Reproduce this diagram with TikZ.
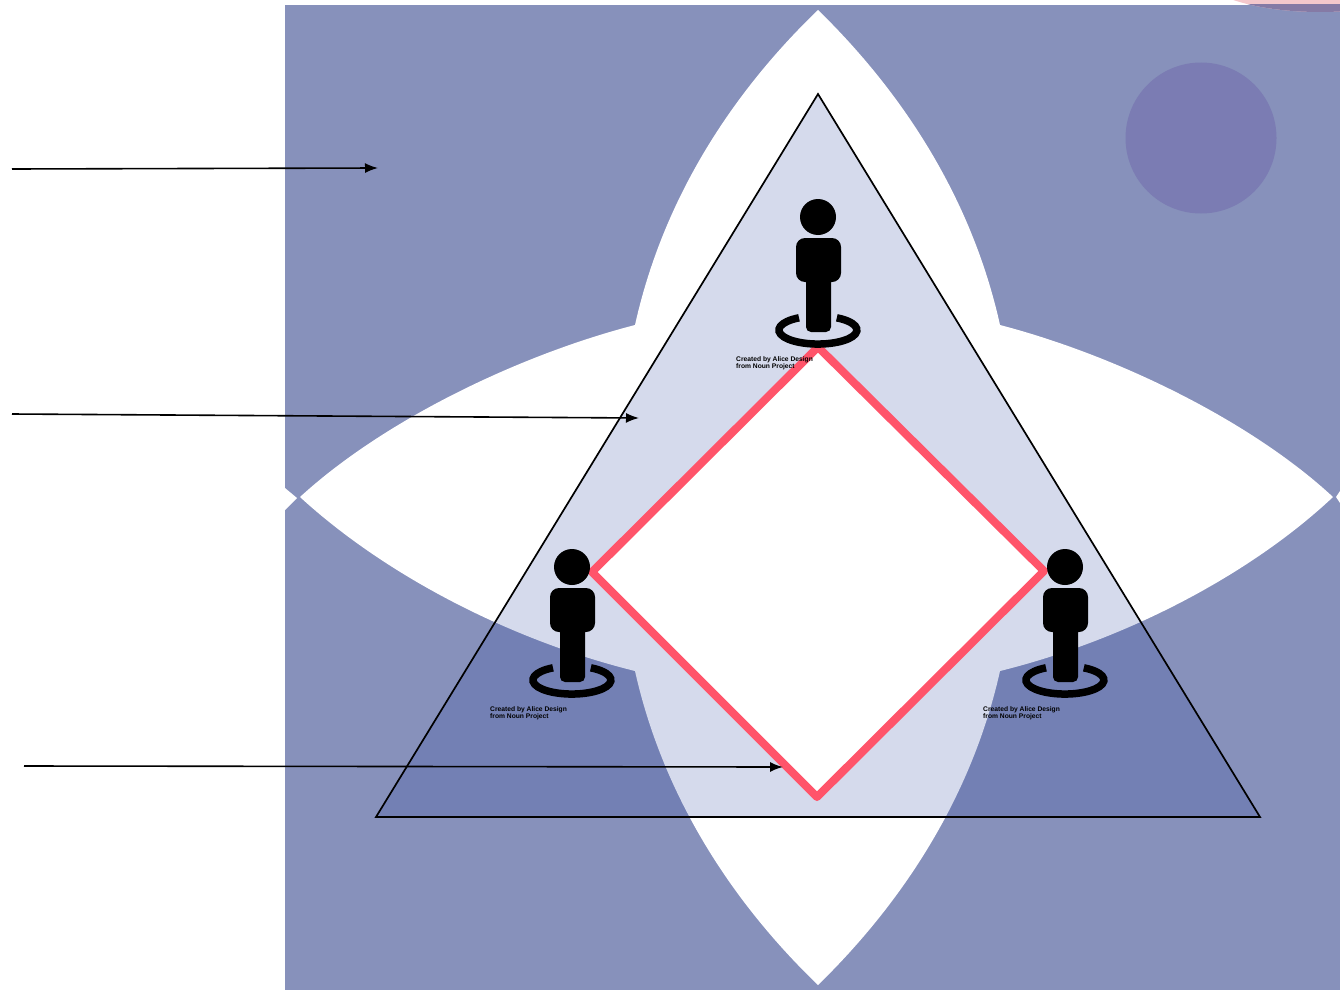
\documentclass[tikz,border=0pt]{standalone}
\usepackage{fontspec}
\setsansfont{Liberation Sans}
\usetikzlibrary{arrows.meta}
\definecolor{field}{RGB}{135,145,187}
\definecolor{disc}{RGB}{123,124,179}
\definecolor{blush}{RGB}{244,200,204}
\definecolor{blushdark}{RGB}{133,122,165}
\definecolor{tint}{RGB}{27,55,150}
\definecolor{rim}{RGB}{255,84,106}
\tikzset{
  pointer/.style={line width=1.6pt,-{Latex[length=13pt,width=10pt]}},
  credit/.style={anchor=north west,align=left,inner sep=0pt,font=\sffamily\bfseries\fontsize{6.7}{7}\selectfont},
  person/.pic={
    \fill (0,0) circle (18);
    \fill[rounded corners=9pt] (-22,21) rectangle (23,65);
    \fill[rounded corners=5pt] (-12,50) rectangle (13,115);
    % ring, open at the top
    \draw[line width=7.5pt] (-19,100.8) arc[start angle=119,end angle=421,x radius=39pt,y radius=14pt];
  }
}
\begin{document}
\begin{tikzpicture}[x=1pt,y=-1pt]
  \useasboundingbox (0,0) rectangle (1340,990);
  % backdrop
  \fill[field] (285,5) rectangle (1340,990);
  \fill[disc] (1201,138) circle (75.5);
  % blush ellipse in the top corner
  \fill[blush] (1320,-30) ellipse [x radius=124pt,y radius=42pt];
  \begin{scope}
    \clip (285,5) rectangle (1340,990);
    \fill[blushdark] (1320,-30) ellipse [x radius=124pt,y radius=42pt];
  \end{scope}
  % white star
  \fill[white] (818,10)
    .. controls (740,85) and (665,190) .. (635,325)
    .. controls (519,355) and (384,420) .. (300,497)
    .. controls (385,575) and (510,640) .. (635,671)
    .. controls (665,805) and (740,910) .. (818,985)
    .. controls (895,910) and (970,805) .. (1000,671)
    .. controls (1125,640) and (1250,575) .. (1333,497)
    .. controls (1250,420) and (1115,355) .. (1000,325)
    .. controls (970,190) and (895,85) .. cycle;
  \fill[white] (285,488) -- (297,498) -- (285,510) -- cycle;
  \fill[white] (1340,491) -- (1336,497) -- (1340,503) -- cycle;
  % triangle, tinted
  \fill[tint,opacity=0.18] (818,94) -- (1260,817) -- (376,817) -- cycle;
  \draw[line width=1.7pt,line join=miter] (818,94) -- (1260,817) -- (376,817) -- cycle;
  % red square on its point
  \draw[rim,fill=white,line width=8pt,line join=round] (818,347) -- (1044,571) -- (817,797) -- (592,572) -- cycle;
  % the three people
  \foreach \px/\py in {818/217,572/567,1065/567}{
    \pic at (\px,\py) {person};
    \node[credit] (credit\px) at (\px-82,\py+139) {Created by Alice Design\\from Noun Project};
  }
  % arrows coming in from the margin
  \coordinate (startA) at (12,169);
  \coordinate (endA) at (378,168);
  \coordinate (startB) at (12,414);
  \coordinate (endB) at (639,418);
  \coordinate (startC) at (24,766);
  \coordinate (endC) at (783,767);
  \draw[pointer] (startA) -- (endA);
  \draw[pointer] (startB) -- (endB);
  \draw[pointer] (startC) -- (endC);
\end{tikzpicture}
\end{document}
